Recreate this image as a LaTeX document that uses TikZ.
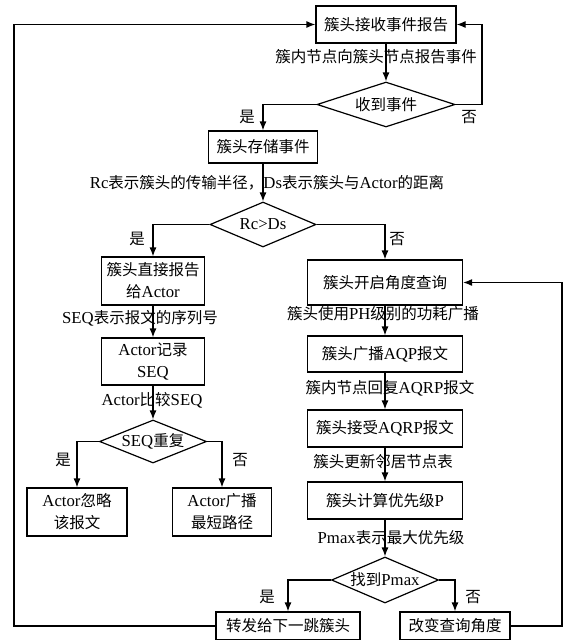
\documentclass[tikz,border=0pt]{standalone}
\usepackage{fontspec}
\setmainfont{Liberation Serif}[Scale=1.08]
\newfontfamily\cjk{Noto Sans CJK SC}
\usetikzlibrary{shapes.geometric,arrows.meta}
\newcommand{\en}[1]{{\rmfamily #1}}

\begin{document}
\begin{tikzpicture}
  [x=1pt,y=-1pt,line width=1.2pt,
   every node/.style={font=\cjk\fontsize{15.5}{22}\selectfont,align=center},
   box/.style={draw,rectangle,inner sep=0pt},
   decision/.style={draw,diamond,aspect=2.5,inner sep=0pt},
   note/.style={inner sep=0pt},
   arr/.style={-{Latex[length=9pt,width=7pt]}}]
  \useasboundingbox (0,0) rectangle (564,640);

  \node[box,minimum width=140pt,minimum height=37pt] (recv) at (386,24.5) {簇头接收事件报告};
  \node[note] (l1) at (376,57) {簇内节点向簇头节点报告事件};
  \node[decision,minimum width=138pt,minimum height=45pt] (rcv) at (386,104.5) {收到事件};
  \node[box,minimum width=109pt,minimum height=32pt] (store) at (263,147) {簇头存储事件};
  \node[note] (l2) at (267,183) {\en{Rc}表示簇头的传输半径，\en{Ds}表示簇头与\en{Actor}的距离};
  \node[decision,minimum width=106pt,minimum height=45pt] (rcds) at (263,224.5) {\en{Rc>Ds}};

  \node[box,minimum width=103pt,minimum height=48pt] (direct) at (153,281) {簇头直接报告\\给\en{Actor}};
  \node[note] (l3) at (140,318) {\en{SEQ}表示报文的序列号};
  \node[box,minimum width=103pt,minimum height=47pt] (record) at (153,361.5) {\en{Actor}记录\\\en{SEQ}};
  \node[note] (l4) at (152,400) {\en{Actor}比较\en{SEQ}};
  \node[decision,minimum width=107pt,minimum height=43pt] (seq) at (153,441.5) {\en{SEQ}重复};
  \node[box,minimum width=100pt,minimum height=48pt] (ignore) at (77,512) {\en{Actor}忽略\\该报文};
  \node[box,minimum width=99pt,minimum height=48pt] (bcast) at (222,512) {\en{Actor}广播\\最短路径};

  \node[box,minimum width=155pt,minimum height=45pt] (angle) at (385,282.5) {簇头开启角度查询};
  \node[note] (l5) at (383,314) {簇头使用\en{PH}级别的功耗广播};
  \node[box,minimum width=155pt,minimum height=36pt] (aqp) at (385,354) {簇头广播\en{AQP}报文};
  \node[note] (l6) at (390,388) {簇内节点回复\en{AQRP}报文};
  \node[box,minimum width=155pt,minimum height=37pt] (aqrp) at (385,428.5) {簇头接受\en{AQRP}报文};
  \node[note] (l7) at (383,462) {簇头更新邻居节点表};
  \node[box,minimum width=155pt,minimum height=37pt] (prio) at (385,500.5) {簇头计算优先级\en{P}};
  \node[note] (l8) at (391,538) {\en{Pmax}表示最大优先级};
  \node[decision,minimum width=107pt,minimum height=46pt] (pmax) at (385,580) {找到\en{Pmax}};
  \node[box,minimum width=144pt,minimum height=28pt] (fwd) at (288,626) {转发给下一跳簇头};
  \node[box,minimum width=110pt,minimum height=28pt] (change) at (455,626) {改变查询角度};

  \node[note] (y1) at (247,117) {是};
  \node[note] (n1) at (469,117) {否};
  \node[note] (y2) at (137,239) {是};
  \node[note] (n2) at (397,239) {否};
  \node[note] (y3) at (63,460) {是};
  \node[note] (n3) at (240,460) {否};
  \node[note] (y4) at (267,597) {是};
  \node[note] (n4) at (473,597) {否};

  \coordinate (nr) at (482,0);
  \coordinate (lft) at (14,0);
  \coordinate (rgt) at (562,0);

  \foreach \from/\to in {recv/rcv,store/rcds,direct/record,record/seq,angle/aqp,aqp/aqrp,aqrp/prio,prio/pmax}
    \draw[arr] (\from) -- (\to);
  \draw[arr] (rcv.west) -| (store.north);
  \draw[arr] (rcv.east) -- (rcv.east -| nr) |- (recv.east);
  \draw[arr] (rcds.west) -| (direct.north);
  \draw[arr] (rcds.east) -| (angle.north);
  \draw[arr] (seq.west) -| (ignore.north);
  \draw[arr] (seq.east) -| (bcast.north);
  \draw[arr] (pmax.west) -| (fwd.north);
  \draw[arr] (pmax.east) -| (change.north);
  \draw[arr] (fwd.west) -- (fwd.west -| lft) |- (recv.west);
  \draw[arr] (change.east) -- (change.east -| rgt) |- (angle.east);
\end{tikzpicture}
\end{document}
